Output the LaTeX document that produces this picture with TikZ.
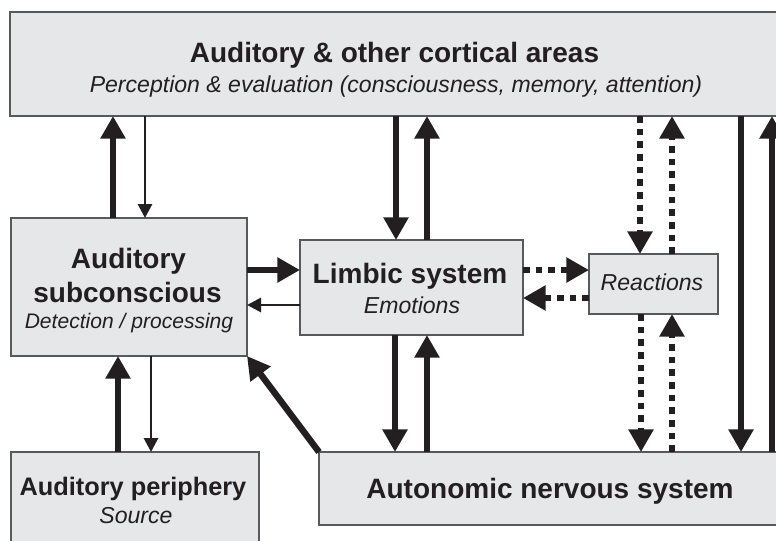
\documentclass[tikz,border=0pt]{standalone}
\usepackage{fontspec}
\setmainfont{Liberation Sans}
\usetikzlibrary{arrows.meta}
\definecolor{boxfill}{HTML}{E6E7E8}
\definecolor{boxline}{HTML}{58595B}
\definecolor{ink}{HTML}{231F20}
\begin{document}
\begin{tikzpicture}[x=0.75pt,y=-0.75pt,
  box/.style={draw=boxline, fill=boxfill, line width=0.8pt, rectangle, inner sep=0pt, outer sep=0pt},
  bigtxt/.style={anchor=base, text=ink, font=\fontsize{21}{25}\selectfont\bfseries},
  midtxt/.style={anchor=base, text=ink, font=\fontsize{19}{23}\selectfont\bfseries},
  ittxt/.style={anchor=base, text=ink, font=\fontsize{17.3}{21}\selectfont\itshape},
  smalltxt/.style={anchor=base, text=ink, font=\fontsize{15.8}{19}\selectfont\itshape},
  heavyarrow/.style={draw=ink, line width=4.8pt, -{Triangle[length=17pt,width=18pt]}},
  lightarrow/.style={draw=ink, line width=2.2pt, -{Triangle[length=10.5pt,width=10.5pt]}},
  dotarrow/.style={draw=ink, line width=5pt, dash pattern=on 5pt off 4.5pt, -{Triangle[length=17pt,width=18pt]}}
]
\clip (0,0) rectangle (776,540);
\fill[white] (0,0) rectangle (776,540);

% boxes
\node[box, minimum width=579pt, minimum height=78pt] (top) at (396,64) {};
\node[box, minimum width=177pt, minimum height=103.5pt] (as) at (129,287) {};
\node[box, minimum width=167.25pt, minimum height=71.25pt] (lim) at (411.5,287.5) {};
\node[box, minimum width=96.75pt, minimum height=45pt] (rea) at (653.5,284) {};
\node[box, minimum width=346.5pt, minimum height=54.75pt] (ans) at (550,488.5) {};
\node[box, minimum width=186pt, minimum height=77.25pt] (per) at (135,503.5) {};

% texts
\node[bigtxt] (t1) at (394.5,62) {Auditory \& other cortical areas};
\node[ittxt] (t2) at (396,92) {Perception \& evaluation (consciousness, memory, attention)};
\node[bigtxt] (t3) at (128.5,268) {Auditory};
\node[bigtxt] (t4) at (127.5,302) {subconscious};
\node[smalltxt] (t5) at (129,328) {Detection / processing};
\node[bigtxt] (t6) at (410,283) {Limbic system};
\node[ittxt] (t7) at (412,313) {Emotions};
\node[ittxt] (t8) at (652,290) {Reactions};
\node[bigtxt] (t9) at (550,498) {Autonomic nervous system};
\node[midtxt] (t10) at (133,495) {Auditory periphery};
\node[ittxt] (t11) at (136,523) {Source};

% column / row guides
\coordinate (c1) at (113,0);
\coordinate (c2) at (145,0);
\coordinate (c3) at (396,0);
\coordinate (c4) at (427,0);
\coordinate (c5) at (640,0);
\coordinate (c6) at (672,0);
\coordinate (c7) at (741,0);
\coordinate (c8) at (772,0);
\coordinate (c9) at (118,0);
\coordinate (c10) at (151,0);
\coordinate (c11) at (395,0);
\coordinate (c12) at (641,0);
\coordinate (r1) at (0,270);
\coordinate (r2) at (0,305);
\coordinate (r3) at (0,298);

% top row connectors
\draw[heavyarrow] (as.north -| c1) -- (top.south -| c1);
\draw[lightarrow] (top.south -| c2) -- (as.north -| c2);
\draw[heavyarrow] (top.south -| c3) -- (lim.north -| c3);
\draw[heavyarrow] (lim.north -| c4) -- (top.south -| c4);
\draw[dotarrow] (top.south -| c5) -- (rea.north -| c5);
\draw[dotarrow] (rea.north -| c6) -- (top.south -| c6);
\draw[heavyarrow] (top.south -| c7) -- (ans.north -| c7);
\draw[heavyarrow] (ans.north -| c8) -- (top.south -| c8);

% middle row
\draw[heavyarrow] (as.east |- r1) -- (lim.west |- r1);
\draw[lightarrow] (lim.west |- r2) -- (as.east |- r2);
\draw[dotarrow] (lim.east |- r1) -- (rea.west |- r1);
\draw[dotarrow] (rea.west |- r3) -- (lim.east |- r3);

% bottom row
\draw[heavyarrow] (lim.south -| c11) -- (ans.north -| c11);
\draw[heavyarrow] (ans.north -| c4) -- (lim.south -| c4);
\draw[dotarrow] (rea.south -| c12) -- (ans.north -| c12);
\draw[dotarrow] (ans.north -| c6) -- (rea.south -| c6);
\draw[heavyarrow] (per.north -| c9) -- (as.south -| c9);
\draw[lightarrow] (as.south -| c10) -- (per.north -| c10);
\draw[heavyarrow] (ans.north west) -- (as.south east);
\end{tikzpicture}
\end{document}
